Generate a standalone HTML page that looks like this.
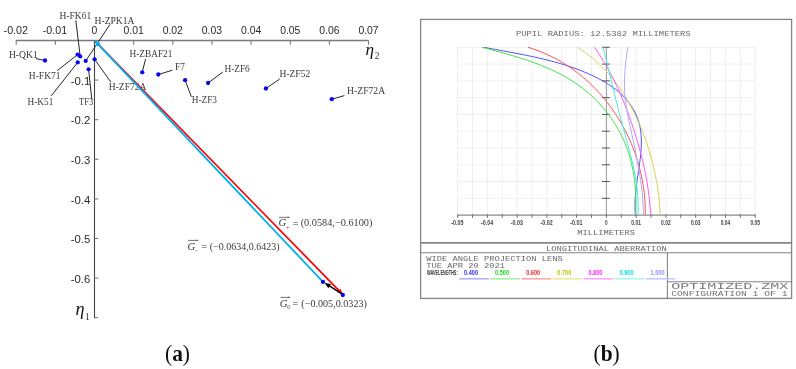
<!DOCTYPE html>
<html><head><meta charset="utf-8"><style>
html,body{margin:0;padding:0;background:#fff;width:796px;height:369px;overflow:hidden}
svg{display:block;will-change:transform}
.ax{font-family:"Liberation Sans",sans-serif;font-size:10.4px;fill:#2a2a2a}
.lb{font-family:"Liberation Serif",serif;font-size:9.8px;fill:#3a3a3a}
.gi{font-family:"Liberation Serif",serif;font-style:italic;font-size:10.8px;fill:#3a3a3a}
.gs{font-family:"Liberation Serif",serif;font-size:5.5px;fill:#444}
.gn{font-family:"Liberation Serif",serif;font-size:9.7px;fill:#3a3a3a}
.eta{font-family:"Liberation Serif",serif;font-style:italic;font-size:17.2px;fill:#111}
.etas{font-family:"Liberation Serif",serif;font-size:9.4px;fill:#333}
.cap{font-family:"Liberation Serif",serif;font-size:19.5px;fill:#111}
.zm{font-family:"Liberation Mono",monospace;font-size:7.6px;fill:#686868}
.zs{font-family:"Liberation Sans",sans-serif;font-size:6px;font-weight:bold;fill:#333}
.zt{font-family:"Liberation Sans",sans-serif;font-size:6.4px;font-weight:bold;fill:#444}
</style></head><body>
<svg width="796" height="369" viewBox="0 0 796 369">
<line x1="15.9" y1="40.5" x2="368.6" y2="40.5" stroke="#7a7a7a" stroke-width="1.3"/>
<line x1="16.2" y1="40.5" x2="16.2" y2="44.7" stroke="#7a7a7a" stroke-width="1.1"/>
<line x1="55.35" y1="40.5" x2="55.35" y2="44.7" stroke="#7a7a7a" stroke-width="1.1"/>
<line x1="94.5" y1="40.5" x2="94.5" y2="44.7" stroke="#7a7a7a" stroke-width="1.1"/>
<line x1="133.65" y1="40.5" x2="133.65" y2="44.7" stroke="#7a7a7a" stroke-width="1.1"/>
<line x1="172.8" y1="40.5" x2="172.8" y2="44.7" stroke="#7a7a7a" stroke-width="1.1"/>
<line x1="211.95" y1="40.5" x2="211.95" y2="44.7" stroke="#7a7a7a" stroke-width="1.1"/>
<line x1="251.1" y1="40.5" x2="251.1" y2="44.7" stroke="#7a7a7a" stroke-width="1.1"/>
<line x1="290.25" y1="40.5" x2="290.25" y2="44.7" stroke="#7a7a7a" stroke-width="1.1"/>
<line x1="329.4" y1="40.5" x2="329.4" y2="44.7" stroke="#7a7a7a" stroke-width="1.1"/>
<line x1="368.55" y1="40.5" x2="368.55" y2="44.7" stroke="#7a7a7a" stroke-width="1.1"/>
<text x="3.6" y="34.0" class="ax" textLength="24.4" lengthAdjust="spacingAndGlyphs">-0.02</text>
<text x="42.75" y="34.0" class="ax" textLength="24.4" lengthAdjust="spacingAndGlyphs">-0.01</text>
<text x="94.5" y="34.0" text-anchor="middle" class="ax">0</text>
<text x="133.65" y="34.0" text-anchor="middle" class="ax">0.01</text>
<text x="172.8" y="34.0" text-anchor="middle" class="ax">0.02</text>
<text x="211.95" y="34.0" text-anchor="middle" class="ax">0.03</text>
<text x="251.1" y="34.0" text-anchor="middle" class="ax">0.04</text>
<text x="290.25" y="34.0" text-anchor="middle" class="ax">0.05</text>
<text x="329.4" y="34.0" text-anchor="middle" class="ax">0.06</text>
<text x="368.55" y="34.0" text-anchor="middle" class="ax">0.07</text>
<line x1="94.5" y1="40.5" x2="94.5" y2="318.3" stroke="#444" stroke-width="1.1"/>
<line x1="94.5" y1="80.1" x2="98.3" y2="80.1" stroke="#7a7a7a" stroke-width="1.1"/>
<line x1="94.5" y1="119.7" x2="98.3" y2="119.7" stroke="#7a7a7a" stroke-width="1.1"/>
<line x1="94.5" y1="159.3" x2="98.3" y2="159.3" stroke="#7a7a7a" stroke-width="1.1"/>
<line x1="94.5" y1="198.9" x2="98.3" y2="198.9" stroke="#7a7a7a" stroke-width="1.1"/>
<line x1="94.5" y1="238.5" x2="98.3" y2="238.5" stroke="#7a7a7a" stroke-width="1.1"/>
<line x1="94.5" y1="278.1" x2="98.3" y2="278.1" stroke="#7a7a7a" stroke-width="1.1"/>
<line x1="94.5" y1="317.7" x2="98.3" y2="317.7" stroke="#7a7a7a" stroke-width="1.1"/>
<text x="70.7" y="84.7" class="ax" style="font-size:10.9px" textLength="19.6" lengthAdjust="spacingAndGlyphs">-0.1</text>
<text x="70.7" y="124.3" class="ax" style="font-size:10.9px" textLength="19.6" lengthAdjust="spacingAndGlyphs">-0.2</text>
<text x="70.7" y="163.9" class="ax" style="font-size:10.9px" textLength="19.6" lengthAdjust="spacingAndGlyphs">-0.3</text>
<text x="70.7" y="203.5" class="ax" style="font-size:10.9px" textLength="19.6" lengthAdjust="spacingAndGlyphs">-0.4</text>
<text x="70.7" y="243.1" class="ax" style="font-size:10.9px" textLength="19.6" lengthAdjust="spacingAndGlyphs">-0.5</text>
<text x="70.7" y="282.7" class="ax" style="font-size:10.9px" textLength="19.6" lengthAdjust="spacingAndGlyphs">-0.6</text>
<text x="365.4" y="54.8" class="eta">η</text><text x="374.8" y="59.0" class="etas">2</text>
<text x="75.6" y="315.1" class="eta" style="font-size:18.2px">η</text><text x="84.9" y="319.6" class="etas">1</text>
<line x1="45.0" y1="60.5" x2="36.0" y2="58.6" stroke="#1a1a1a" stroke-width="0.95"/>
<line x1="77.6" y1="54.6" x2="57.3" y2="70.6" stroke="#1a1a1a" stroke-width="0.95"/>
<line x1="80.2" y1="56.4" x2="75.8" y2="20.3" stroke="#1a1a1a" stroke-width="0.95"/>
<line x1="77.7" y1="62.4" x2="51.2" y2="95.9" stroke="#1a1a1a" stroke-width="0.95"/>
<line x1="85.7" y1="60.9" x2="110.0" y2="24.4" stroke="#1a1a1a" stroke-width="0.95"/>
<line x1="88.6" y1="69.3" x2="91.8" y2="99.6" stroke="#1a1a1a" stroke-width="0.95"/>
<line x1="94.6" y1="59.3" x2="110.8" y2="82.0" stroke="#1a1a1a" stroke-width="0.95"/>
<line x1="142.2" y1="72.3" x2="145.6" y2="59.0" stroke="#1a1a1a" stroke-width="0.95"/>
<line x1="158.3" y1="74.5" x2="172.4" y2="70.2" stroke="#1a1a1a" stroke-width="0.95"/>
<line x1="185.1" y1="80.2" x2="191.4" y2="96.8" stroke="#1a1a1a" stroke-width="0.95"/>
<line x1="208.1" y1="83.0" x2="222.8" y2="72.0" stroke="#1a1a1a" stroke-width="0.95"/>
<line x1="265.9" y1="88.5" x2="279.7" y2="79.0" stroke="#1a1a1a" stroke-width="0.95"/>
<line x1="331.8" y1="99.2" x2="344.4" y2="95.6" stroke="#1a1a1a" stroke-width="0.95"/>
<text x="8.9" y="57.6" class="lb" textLength="28.9" lengthAdjust="spacingAndGlyphs">H-QK1</text>
<text x="28.8" y="78.8" class="lb" textLength="31.8" lengthAdjust="spacingAndGlyphs">H-FK71</text>
<text x="59.5" y="18.8" class="lb" textLength="31.7" lengthAdjust="spacingAndGlyphs">H-FK61</text>
<text x="27.5" y="104.6" class="lb" textLength="25.8" lengthAdjust="spacingAndGlyphs">H-K51</text>
<text x="94.6" y="24.2" class="lb" textLength="39.9" lengthAdjust="spacingAndGlyphs">H-ZPK1A</text>
<text x="79.0" y="104.5" class="lb" textLength="14.4" lengthAdjust="spacingAndGlyphs">TF3</text>
<text x="108.8" y="89.9" class="lb" textLength="37.6" lengthAdjust="spacingAndGlyphs">H-ZF72A</text>
<text x="129.5" y="56.8" class="lb" textLength="42.9" lengthAdjust="spacingAndGlyphs">H-ZBAF21</text>
<text x="175.0" y="69.5" class="lb" textLength="9.8" lengthAdjust="spacingAndGlyphs">F7</text>
<text x="191.7" y="102.7" class="lb" textLength="25.3" lengthAdjust="spacingAndGlyphs">H-ZF3</text>
<text x="224.4" y="71.7" class="lb" textLength="25.4" lengthAdjust="spacingAndGlyphs">H-ZF6</text>
<text x="279.5" y="76.8" class="lb" textLength="30.7" lengthAdjust="spacingAndGlyphs">H-ZF52</text>
<text x="347.1" y="94.4" class="lb" textLength="38.0" lengthAdjust="spacingAndGlyphs">H-ZF72A</text>
<line x1="94.6" y1="40.6" x2="342.7" y2="294.3" stroke="#ff0000" stroke-width="1.7"/>
<line x1="94.6" y1="40.6" x2="323.0" y2="281.9" stroke="#00b0f0" stroke-width="1.8"/>
<polygon points="94.6,40.6 100.54,43.24 96.91,46.68" fill="#00b0f0"/>
<polygon points="342.7,294.3 337.28,291.91 340.43,288.83" fill="#ff0000"/>
<line x1="342.7" y1="294.3" x2="327.0" y2="284.4" stroke="#000" stroke-width="1.5"/>
<polygon points="324.6,282.9 331.01,283.98 328.34,288.21" fill="#000"/>
<circle cx="45.0" cy="60.5" r="2.15" fill="#0808ee"/>
<circle cx="77.6" cy="54.6" r="2.15" fill="#0808ee"/>
<circle cx="80.2" cy="56.4" r="2.15" fill="#0808ee"/>
<circle cx="77.7" cy="62.4" r="2.15" fill="#0808ee"/>
<circle cx="85.7" cy="60.9" r="2.15" fill="#0808ee"/>
<circle cx="88.6" cy="69.3" r="2.15" fill="#0808ee"/>
<circle cx="94.6" cy="59.3" r="2.15" fill="#0808ee"/>
<circle cx="142.2" cy="72.3" r="2.15" fill="#0808ee"/>
<circle cx="158.3" cy="74.5" r="2.15" fill="#0808ee"/>
<circle cx="185.1" cy="80.2" r="2.15" fill="#0808ee"/>
<circle cx="208.1" cy="83.0" r="2.15" fill="#0808ee"/>
<circle cx="265.9" cy="88.5" r="2.15" fill="#0808ee"/>
<circle cx="331.8" cy="99.2" r="2.15" fill="#0808ee"/>
<circle cx="323.0" cy="281.9" r="2.15" fill="#0808ee"/>
<circle cx="342.8" cy="295.0" r="2.15" fill="#0808ee"/>
<text x="278.4" y="226.4" class="gi">G</text><text x="286.3" y="229.8" class="gs">+</text><text x="292.7" y="226.9" class="gn" style="font-size:10px">=</text><text x="300.7" y="226.4" class="gn" textLength="71.70000000000002" lengthAdjust="spacingAndGlyphs">(0.0584,&#8722;0.6100)</text><line x1="279.0" y1="217.3" x2="289.0" y2="217.3" stroke="#444" stroke-width="0.75"/><polygon points="290.0,217.3 287.8,216.45000000000002 287.8,218.15" fill="#555"/>
<text x="187.5" y="249.9" class="gi">G</text><text x="194.8" y="251.6" class="gs">&#8211;</text><text x="201.39999999999998" y="250.4" class="gn" style="font-size:10px">=</text><text x="209.8" y="249.9" class="gn" textLength="69.79999999999998" lengthAdjust="spacingAndGlyphs">(&#8722;0.0634,0.6423)</text><line x1="188.1" y1="240.4" x2="197.7" y2="240.4" stroke="#444" stroke-width="0.75"/><polygon points="198.7,240.4 196.5,239.55 196.5,241.25" fill="#555"/>
<text x="279.79999999999995" y="306.8" class="gi">G</text><text x="287.3" y="309.4" class="gs">0</text><text x="292.5" y="307.3" class="gn" style="font-size:10px">=</text><text x="301.3" y="306.8" class="gn" textLength="65.6" lengthAdjust="spacingAndGlyphs">(&#8722;0.005,0.0323)</text><line x1="280.4" y1="297.4" x2="289.6" y2="297.4" stroke="#444" stroke-width="0.75"/><polygon points="290.6,297.4 288.40000000000003,296.54999999999995 288.40000000000003,298.25" fill="#555"/>
<text transform="translate(165,360.9) scale(1.1,1.2)" class="cap">(<tspan font-weight="bold">a</tspan>)</text>
<text transform="translate(593.5,360.9) scale(1.1,1.2)" class="cap">(<tspan font-weight="bold">b</tspan>)</text>
<rect x="420.6" y="19.4" width="371" height="279" fill="none" stroke="#858585" stroke-width="1.3"/>
<line x1="457.6" y1="47.3" x2="457.6" y2="215.1" stroke="#efefef" stroke-width="1"/>
<line x1="472.48" y1="47.3" x2="472.48" y2="215.1" stroke="#efefef" stroke-width="1"/>
<line x1="487.36" y1="47.3" x2="487.36" y2="215.1" stroke="#efefef" stroke-width="1"/>
<line x1="502.24" y1="47.3" x2="502.24" y2="215.1" stroke="#efefef" stroke-width="1"/>
<line x1="517.12" y1="47.3" x2="517.12" y2="215.1" stroke="#efefef" stroke-width="1"/>
<line x1="532" y1="47.3" x2="532" y2="215.1" stroke="#efefef" stroke-width="1"/>
<line x1="546.88" y1="47.3" x2="546.88" y2="215.1" stroke="#efefef" stroke-width="1"/>
<line x1="561.76" y1="47.3" x2="561.76" y2="215.1" stroke="#efefef" stroke-width="1"/>
<line x1="576.64" y1="47.3" x2="576.64" y2="215.1" stroke="#efefef" stroke-width="1"/>
<line x1="591.52" y1="47.3" x2="591.52" y2="215.1" stroke="#efefef" stroke-width="1"/>
<line x1="606.4" y1="47.3" x2="606.4" y2="215.1" stroke="#efefef" stroke-width="1"/>
<line x1="621.28" y1="47.3" x2="621.28" y2="215.1" stroke="#efefef" stroke-width="1"/>
<line x1="636.16" y1="47.3" x2="636.16" y2="215.1" stroke="#efefef" stroke-width="1"/>
<line x1="651.04" y1="47.3" x2="651.04" y2="215.1" stroke="#efefef" stroke-width="1"/>
<line x1="665.92" y1="47.3" x2="665.92" y2="215.1" stroke="#efefef" stroke-width="1"/>
<line x1="680.8" y1="47.3" x2="680.8" y2="215.1" stroke="#efefef" stroke-width="1"/>
<line x1="695.68" y1="47.3" x2="695.68" y2="215.1" stroke="#efefef" stroke-width="1"/>
<line x1="710.56" y1="47.3" x2="710.56" y2="215.1" stroke="#efefef" stroke-width="1"/>
<line x1="725.44" y1="47.3" x2="725.44" y2="215.1" stroke="#efefef" stroke-width="1"/>
<line x1="740.32" y1="47.3" x2="740.32" y2="215.1" stroke="#efefef" stroke-width="1"/>
<line x1="755.2" y1="47.3" x2="755.2" y2="215.1" stroke="#efefef" stroke-width="1"/>
<line x1="457.6" y1="47.3" x2="755.2" y2="47.3" stroke="#efefef" stroke-width="1"/>
<line x1="457.6" y1="64.08" x2="755.2" y2="64.08" stroke="#efefef" stroke-width="1"/>
<line x1="457.6" y1="80.86" x2="755.2" y2="80.86" stroke="#efefef" stroke-width="1"/>
<line x1="457.6" y1="97.64" x2="755.2" y2="97.64" stroke="#efefef" stroke-width="1"/>
<line x1="457.6" y1="114.42" x2="755.2" y2="114.42" stroke="#efefef" stroke-width="1"/>
<line x1="457.6" y1="131.2" x2="755.2" y2="131.2" stroke="#efefef" stroke-width="1"/>
<line x1="457.6" y1="147.98" x2="755.2" y2="147.98" stroke="#efefef" stroke-width="1"/>
<line x1="457.6" y1="164.76" x2="755.2" y2="164.76" stroke="#efefef" stroke-width="1"/>
<line x1="457.6" y1="181.54" x2="755.2" y2="181.54" stroke="#efefef" stroke-width="1"/>
<line x1="457.6" y1="198.32" x2="755.2" y2="198.32" stroke="#efefef" stroke-width="1"/>
<line x1="457.6" y1="215.1" x2="755.2" y2="215.1" stroke="#efefef" stroke-width="1"/>
<line x1="457.6" y1="215.1" x2="755.2" y2="215.1" stroke="#8c8c8c" stroke-width="1.4"/>
<line x1="606.4" y1="47.3" x2="606.4" y2="215.1" stroke="#9a9a9a" stroke-width="1"/>
<line x1="457.6" y1="214.4" x2="457.6" y2="217.79999999999998" stroke="#6a6a6a" stroke-width="1"/>
<line x1="472.48" y1="214.4" x2="472.48" y2="217.79999999999998" stroke="#6a6a6a" stroke-width="1"/>
<line x1="487.36" y1="214.4" x2="487.36" y2="217.79999999999998" stroke="#6a6a6a" stroke-width="1"/>
<line x1="502.24" y1="214.4" x2="502.24" y2="217.79999999999998" stroke="#6a6a6a" stroke-width="1"/>
<line x1="517.12" y1="214.4" x2="517.12" y2="217.79999999999998" stroke="#6a6a6a" stroke-width="1"/>
<line x1="532" y1="214.4" x2="532" y2="217.79999999999998" stroke="#6a6a6a" stroke-width="1"/>
<line x1="546.88" y1="214.4" x2="546.88" y2="217.79999999999998" stroke="#6a6a6a" stroke-width="1"/>
<line x1="561.76" y1="214.4" x2="561.76" y2="217.79999999999998" stroke="#6a6a6a" stroke-width="1"/>
<line x1="576.64" y1="214.4" x2="576.64" y2="217.79999999999998" stroke="#6a6a6a" stroke-width="1"/>
<line x1="591.52" y1="214.4" x2="591.52" y2="217.79999999999998" stroke="#6a6a6a" stroke-width="1"/>
<line x1="606.4" y1="214.4" x2="606.4" y2="217.79999999999998" stroke="#6a6a6a" stroke-width="1"/>
<line x1="621.28" y1="214.4" x2="621.28" y2="217.79999999999998" stroke="#6a6a6a" stroke-width="1"/>
<line x1="636.16" y1="214.4" x2="636.16" y2="217.79999999999998" stroke="#6a6a6a" stroke-width="1"/>
<line x1="651.04" y1="214.4" x2="651.04" y2="217.79999999999998" stroke="#6a6a6a" stroke-width="1"/>
<line x1="665.92" y1="214.4" x2="665.92" y2="217.79999999999998" stroke="#6a6a6a" stroke-width="1"/>
<line x1="680.8" y1="214.4" x2="680.8" y2="217.79999999999998" stroke="#6a6a6a" stroke-width="1"/>
<line x1="695.68" y1="214.4" x2="695.68" y2="217.79999999999998" stroke="#6a6a6a" stroke-width="1"/>
<line x1="710.56" y1="214.4" x2="710.56" y2="217.79999999999998" stroke="#6a6a6a" stroke-width="1"/>
<line x1="725.44" y1="214.4" x2="725.44" y2="217.79999999999998" stroke="#6a6a6a" stroke-width="1"/>
<line x1="740.32" y1="214.4" x2="740.32" y2="217.79999999999998" stroke="#6a6a6a" stroke-width="1"/>
<line x1="755.2" y1="214.4" x2="755.2" y2="217.79999999999998" stroke="#6a6a6a" stroke-width="1"/>
<line x1="602" y1="47.3" x2="609.8" y2="47.3" stroke="#555" stroke-width="1"/>
<line x1="602" y1="64.08" x2="609.8" y2="64.08" stroke="#555" stroke-width="1"/>
<line x1="602" y1="80.86" x2="609.8" y2="80.86" stroke="#555" stroke-width="1"/>
<line x1="602" y1="97.64" x2="609.8" y2="97.64" stroke="#555" stroke-width="1"/>
<line x1="602" y1="114.42" x2="609.8" y2="114.42" stroke="#555" stroke-width="1"/>
<line x1="602" y1="131.2" x2="609.8" y2="131.2" stroke="#555" stroke-width="1"/>
<line x1="602" y1="147.98" x2="609.8" y2="147.98" stroke="#555" stroke-width="1"/>
<line x1="602" y1="164.76" x2="609.8" y2="164.76" stroke="#555" stroke-width="1"/>
<line x1="602" y1="181.54" x2="609.8" y2="181.54" stroke="#555" stroke-width="1"/>
<line x1="602" y1="198.32" x2="609.8" y2="198.32" stroke="#555" stroke-width="1"/>
<text x="451.2" y="225.3" class="zt" textLength="12.2" lengthAdjust="spacingAndGlyphs">-0.05</text>
<text x="480.96" y="225.3" class="zt" textLength="12.2" lengthAdjust="spacingAndGlyphs">-0.04</text>
<text x="510.72" y="225.3" class="zt" textLength="12.2" lengthAdjust="spacingAndGlyphs">-0.03</text>
<text x="540.48" y="225.3" class="zt" textLength="12.2" lengthAdjust="spacingAndGlyphs">-0.02</text>
<text x="570.24" y="225.3" class="zt" textLength="12.2" lengthAdjust="spacingAndGlyphs">-0.01</text>
<text x="605.1" y="225.3" class="zt" textLength="2.6" lengthAdjust="spacingAndGlyphs">0</text>
<text x="631.36" y="225.3" class="zt" textLength="9.6" lengthAdjust="spacingAndGlyphs">0.01</text>
<text x="661.12" y="225.3" class="zt" textLength="9.6" lengthAdjust="spacingAndGlyphs">0.02</text>
<text x="690.88" y="225.3" class="zt" textLength="9.6" lengthAdjust="spacingAndGlyphs">0.03</text>
<text x="720.64" y="225.3" class="zt" textLength="9.6" lengthAdjust="spacingAndGlyphs">0.04</text>
<text x="750.4" y="225.3" class="zt" textLength="9.6" lengthAdjust="spacingAndGlyphs">0.05</text>
<path d="M484,47.3 L487.83,48.02 L491.66,48.74 L495.52,49.46 L499.39,50.18 L503.27,50.9 L507.16,51.62 L511.06,52.36 L514.97,53.1 L518.88,53.85 L522.8,54.62 L526.72,55.42 L530.63,56.23 L534.54,57.07 L538.45,57.95 L542.35,58.85 L546.24,59.8 L550.11,60.78 L553.98,61.8 L557.82,62.87 L561.65,63.99 L565.46,65.16 L569.24,66.39 L573.01,67.67 L576.74,69.02 L580.45,70.43 L584.12,71.91 L587.76,73.47 L591.37,75.09 L594.94,76.8 L598.47,78.58 L601.96,80.46 L605.38,82.42 L608.74,84.5 L612,86.69 L615.17,89 L618.21,91.45 L621.13,94.03 L623.91,96.78 L626.52,99.68 L628.97,102.74 L631.23,105.94 L633.29,109.28 L635.13,112.73 L636.75,116.29 L638.13,119.93 L639.25,123.64 L640.11,127.42 L640.72,131.26 L641.12,135.14 L641.32,139.07 L641.35,143.04 L641.22,147.04 L640.96,151.07 L640.6,155.12 L640.15,159.18 L639.63,163.26 L639.07,167.34 L638.48,171.42 L637.89,175.5 L637.3,179.56 L636.74,183.61 L636.23,187.64 L635.78,191.63 L635.41,195.59 L635.14,199.51 L634.99,203.39 L634.97,207.22 L635.1,210.99 L635.4,214.7" fill="none" stroke="#5050ff" stroke-width="1" stroke-linejoin="round"/>
<path d="M481.8,47.3 L485.27,48.18 L488.75,49.07 L492.25,49.99 L495.76,50.92 L499.29,51.87 L502.82,52.85 L506.35,53.85 L509.89,54.87 L513.43,55.92 L516.97,56.99 L520.5,58.1 L524.02,59.24 L527.53,60.42 L531.03,61.63 L534.51,62.88 L537.98,64.18 L541.42,65.52 L544.83,66.92 L548.22,68.36 L551.58,69.87 L554.9,71.43 L558.19,73.05 L561.45,74.73 L564.66,76.48 L567.82,78.3 L570.94,80.2 L574.01,82.17 L577.03,84.21 L580,86.34 L582.91,88.55 L585.76,90.83 L588.55,93.18 L591.27,95.61 L593.94,98.11 L596.53,100.68 L599.06,103.31 L601.52,106.01 L603.9,108.77 L606.21,111.59 L608.44,114.47 L610.6,117.41 L612.67,120.4 L614.66,123.44 L616.57,126.54 L618.39,129.68 L620.12,132.87 L621.76,136.11 L623.31,139.39 L624.76,142.71 L626.12,146.07 L627.38,149.46 L628.54,152.89 L629.61,156.36 L630.59,159.85 L631.48,163.38 L632.28,166.93 L633,170.51 L633.64,174.11 L634.19,177.73 L634.66,181.37 L635.06,185.03 L635.38,188.71 L635.63,192.4 L635.8,196.1 L635.91,199.81 L635.95,203.53 L635.93,207.25 L635.84,210.98 L635.7,214.7" fill="none" stroke="#44e044" stroke-width="1" stroke-linejoin="round"/>
<path d="M528,47.3 L531.09,48.27 L534.15,49.29 L537.18,50.37 L540.19,51.52 L543.15,52.73 L546.09,54 L548.99,55.33 L551.85,56.71 L554.68,58.16 L557.48,59.66 L560.24,61.21 L562.97,62.82 L565.65,64.49 L568.3,66.21 L570.92,67.97 L573.5,69.79 L576.03,71.66 L578.53,73.58 L581,75.55 L583.42,77.56 L585.8,79.63 L588.14,81.73 L590.44,83.88 L592.71,86.08 L594.92,88.31 L597.1,90.59 L599.24,92.91 L601.33,95.27 L603.38,97.67 L605.39,100.1 L607.35,102.57 L609.27,105.08 L611.14,107.62 L612.97,110.2 L614.75,112.81 L616.49,115.46 L618.18,118.13 L619.82,120.84 L621.42,123.57 L622.97,126.33 L624.47,129.12 L625.92,131.94 L627.33,134.78 L628.68,137.65 L629.98,140.54 L631.24,143.46 L632.44,146.4 L633.6,149.35 L634.7,152.33 L635.75,155.33 L636.74,158.34 L637.69,161.38 L638.58,164.43 L639.42,167.49 L640.2,170.57 L640.93,173.67 L641.61,176.77 L642.23,179.89 L642.79,183.02 L643.3,186.16 L643.75,189.31 L644.15,192.46 L644.49,195.63 L644.77,198.79 L644.99,201.97 L645.15,205.15 L645.26,208.33 L645.31,211.52 L645.3,214.7" fill="none" stroke="#ff5050" stroke-width="1" stroke-linejoin="round"/>
<path d="M577.3,47.3 L579.74,48.8 L582.12,50.36 L584.46,51.96 L586.76,53.61 L589.01,55.31 L591.21,57.04 L593.38,58.82 L595.5,60.65 L597.57,62.51 L599.61,64.41 L601.61,66.35 L603.56,68.33 L605.48,70.34 L607.35,72.39 L609.19,74.48 L610.99,76.6 L612.75,78.75 L614.47,80.94 L616.16,83.15 L617.81,85.4 L619.42,87.67 L621,89.97 L622.54,92.31 L624.05,94.66 L625.53,97.04 L626.97,99.45 L628.38,101.88 L629.75,104.33 L631.1,106.81 L632.42,109.3 L633.7,111.82 L634.95,114.35 L636.18,116.9 L637.37,119.47 L638.54,122.05 L639.68,124.65 L640.78,127.27 L641.86,129.9 L642.91,132.54 L643.92,135.2 L644.91,137.87 L645.87,140.55 L646.79,143.24 L647.69,145.94 L648.56,148.65 L649.39,151.37 L650.2,154.09 L650.98,156.83 L651.72,159.57 L652.44,162.31 L653.12,165.07 L653.77,167.82 L654.4,170.58 L654.99,173.34 L655.55,176.11 L656.08,178.88 L656.58,181.65 L657.04,184.41 L657.48,187.18 L657.89,189.95 L658.26,192.71 L658.6,195.48 L658.91,198.24 L659.19,200.99 L659.44,203.74 L659.66,206.49 L659.84,209.23 L659.99,211.96 L660.1,214.7" fill="none" stroke="#d2d250" stroke-width="1" stroke-linejoin="round"/>
<path d="M594.5,47.3 L595.99,49.43 L597.44,51.58 L598.87,53.75 L600.28,55.93 L601.66,58.11 L603.01,60.32 L604.35,62.53 L605.65,64.75 L606.94,66.99 L608.2,69.24 L609.44,71.5 L610.66,73.77 L611.85,76.05 L613.03,78.34 L614.18,80.64 L615.31,82.96 L616.43,85.28 L617.52,87.61 L618.59,89.95 L619.65,92.3 L620.68,94.66 L621.7,97.03 L622.7,99.41 L623.68,101.8 L624.64,104.19 L625.59,106.59 L626.52,109 L627.44,111.42 L628.34,113.85 L629.22,116.28 L630.09,118.72 L630.94,121.17 L631.78,123.62 L632.61,126.08 L633.42,128.55 L634.22,131.02 L635.01,133.5 L635.78,135.99 L636.54,138.48 L637.29,140.97 L638.02,143.47 L638.74,145.98 L639.44,148.49 L640.12,151 L640.79,153.52 L641.44,156.04 L642.08,158.57 L642.69,161.1 L643.29,163.63 L643.86,166.17 L644.42,168.71 L644.96,171.25 L645.48,173.79 L645.97,176.34 L646.44,178.89 L646.9,181.44 L647.32,183.99 L647.73,186.55 L648.11,189.11 L648.47,191.66 L648.8,194.22 L649.11,196.78 L649.39,199.34 L649.64,201.9 L649.87,204.46 L650.07,207.02 L650.25,209.58 L650.39,212.14 L650.5,214.7" fill="none" stroke="#f458f4" stroke-width="1" stroke-linejoin="round"/>
<path d="M603.1,47.3 L603.73,49.73 L604.34,52.17 L604.95,54.6 L605.56,57.03 L606.16,59.45 L606.75,61.88 L607.34,64.3 L607.92,66.72 L608.5,69.13 L609.08,71.55 L609.66,73.96 L610.23,76.37 L610.81,78.78 L611.38,81.19 L611.95,83.6 L612.53,86.01 L613.1,88.41 L613.68,90.82 L614.26,93.22 L614.85,95.62 L615.43,98.03 L616.02,100.43 L616.62,102.83 L617.22,105.23 L617.83,107.63 L618.44,110.03 L619.06,112.43 L619.69,114.83 L620.33,117.23 L620.97,119.63 L621.62,122.03 L622.28,124.44 L622.95,126.84 L623.62,129.24 L624.29,131.65 L624.96,134.05 L625.63,136.46 L626.29,138.87 L626.96,141.28 L627.62,143.69 L628.27,146.1 L628.91,148.51 L629.55,150.93 L630.17,153.34 L630.78,155.76 L631.38,158.18 L631.96,160.61 L632.53,163.03 L633.08,165.46 L633.6,167.89 L634.11,170.33 L634.6,172.76 L635.06,175.2 L635.49,177.64 L635.9,180.09 L636.28,182.54 L636.63,184.99 L636.95,187.44 L637.24,189.9 L637.49,192.36 L637.71,194.83 L637.89,197.3 L638.03,199.77 L638.14,202.25 L638.2,204.73 L638.22,207.21 L638.19,209.7 L638.12,212.2 L638,214.7" fill="none" stroke="#44e8e8" stroke-width="1" stroke-linejoin="round"/>
<path d="M627.8,47.3 L627.44,49.77 L627.09,52.24 L626.75,54.71 L626.43,57.17 L626.12,59.63 L625.83,62.08 L625.56,64.53 L625.31,66.98 L625.09,69.43 L624.9,71.87 L624.74,74.31 L624.61,76.74 L624.52,79.18 L624.47,81.61 L624.45,84.04 L624.48,86.47 L624.55,88.89 L624.66,91.31 L624.81,93.73 L625,96.15 L625.24,98.57 L625.51,100.98 L625.83,103.4 L626.17,105.81 L626.55,108.22 L626.96,110.63 L627.4,113.04 L627.85,115.45 L628.33,117.85 L628.82,120.26 L629.33,122.66 L629.84,125.07 L630.36,127.47 L630.89,129.88 L631.42,132.28 L631.94,134.69 L632.46,137.09 L632.98,139.49 L633.5,141.9 L634.01,144.3 L634.51,146.71 L635.01,149.11 L635.51,151.52 L635.99,153.93 L636.47,156.34 L636.94,158.75 L637.4,161.16 L637.84,163.57 L638.28,165.98 L638.7,168.4 L639.12,170.81 L639.51,173.23 L639.9,175.65 L640.27,178.07 L640.62,180.49 L640.96,182.92 L641.28,185.35 L641.58,187.78 L641.86,190.21 L642.12,192.65 L642.37,195.08 L642.59,197.53 L642.79,199.97 L642.97,202.42 L643.12,204.87 L643.25,207.32 L643.36,209.78 L643.44,212.24 L643.5,214.7" fill="none" stroke="#a8a8ff" stroke-width="1" stroke-linejoin="round"/>
<text x="516" y="35.7" class="zm" textLength="174.6" lengthAdjust="spacingAndGlyphs">PUPIL RADIUS: 12.5382 MILLIMETERS</text>
<text x="577.2" y="234.7" class="zm" textLength="57.7" lengthAdjust="spacingAndGlyphs">MILLIMETERS</text>
<line x1="420.6" y1="242.9" x2="791.6" y2="242.9" stroke="#858585" stroke-width="1.6"/>
<line x1="420.6" y1="252.8" x2="791.6" y2="252.8" stroke="#858585" stroke-width="1.1"/>
<line x1="667.4" y1="252.8" x2="667.4" y2="298.4" stroke="#858585" stroke-width="1.1"/>
<line x1="667.4" y1="281.7" x2="791.6" y2="281.7" stroke="#858585" stroke-width="1.1"/>
<text x="545.9" y="250.6" class="zm" textLength="120.8" lengthAdjust="spacingAndGlyphs">LONGITUDINAL ABERRATION</text>
<text x="426.3" y="260.9" class="zm" textLength="136.5" lengthAdjust="spacingAndGlyphs">WIDE ANGLE PROJECTION LENS</text>
<text x="426.3" y="268.1" class="zm" textLength="78.8" lengthAdjust="spacingAndGlyphs">TUE APR 20 2021</text>
<text x="427" y="274.9" class="zs" style="font-size:7.9px" textLength="30.7" lengthAdjust="spacingAndGlyphs">WAVELENGTHS:</text>
<text x="464" y="274.5" class="zs" style="fill:#3030ff;font-size:7.4px;font-weight:bold" textLength="14.0" lengthAdjust="spacingAndGlyphs">0.400</text>
<line x1="459.2" y1="278.8" x2="488.8" y2="278.8" stroke="#b0b0ff" stroke-width="1.6"/>
<text x="495.1" y="274.5" class="zs" style="fill:#20e020;font-size:7.4px;font-weight:bold" textLength="14.0" lengthAdjust="spacingAndGlyphs">0.500</text>
<line x1="490.3" y1="278.8" x2="519.9" y2="278.8" stroke="#a8f0a8" stroke-width="1.6"/>
<text x="526.2" y="274.5" class="zs" style="fill:#ff2020;font-size:7.4px;font-weight:bold" textLength="14.0" lengthAdjust="spacingAndGlyphs">0.600</text>
<line x1="521.4" y1="278.8" x2="551" y2="278.8" stroke="#ffa8a8" stroke-width="1.6"/>
<text x="557.3" y="274.5" class="zs" style="fill:#c0c000;font-size:7.4px;font-weight:bold" textLength="14.0" lengthAdjust="spacingAndGlyphs">0.700</text>
<line x1="552.5" y1="278.8" x2="582.1" y2="278.8" stroke="#e8e8a0" stroke-width="1.6"/>
<text x="588.4" y="274.5" class="zs" style="fill:#ff20ff;font-size:7.4px;font-weight:bold" textLength="14.0" lengthAdjust="spacingAndGlyphs">0.800</text>
<line x1="583.6" y1="278.8" x2="613.2" y2="278.8" stroke="#ffa8ff" stroke-width="1.6"/>
<text x="619.5" y="274.5" class="zs" style="fill:#00e0e0;font-size:7.4px;font-weight:bold" textLength="14.0" lengthAdjust="spacingAndGlyphs">0.900</text>
<line x1="614.7" y1="278.8" x2="644.3" y2="278.8" stroke="#a8f8f8" stroke-width="1.6"/>
<text x="650.6" y="274.5" class="zs" style="fill:#9090ff;font-size:7.4px;font-weight:bold" textLength="14.0" lengthAdjust="spacingAndGlyphs">1.000</text>
<line x1="645.8" y1="278.8" x2="675.4" y2="278.8" stroke="#c8c8ff" stroke-width="1.6"/>
<text x="671.2" y="289.2" class="zm" style="font-size:8.6px;fill:#7a7a7a" textLength="117.2" lengthAdjust="spacingAndGlyphs">OPTIMIZED.ZMX</text>
<text x="671.2" y="296.4" class="zm" style="font-size:7.9px;fill:#707070" textLength="116.3" lengthAdjust="spacingAndGlyphs">CONFIGURATION 1 OF 1</text>
</svg>
</body></html>
